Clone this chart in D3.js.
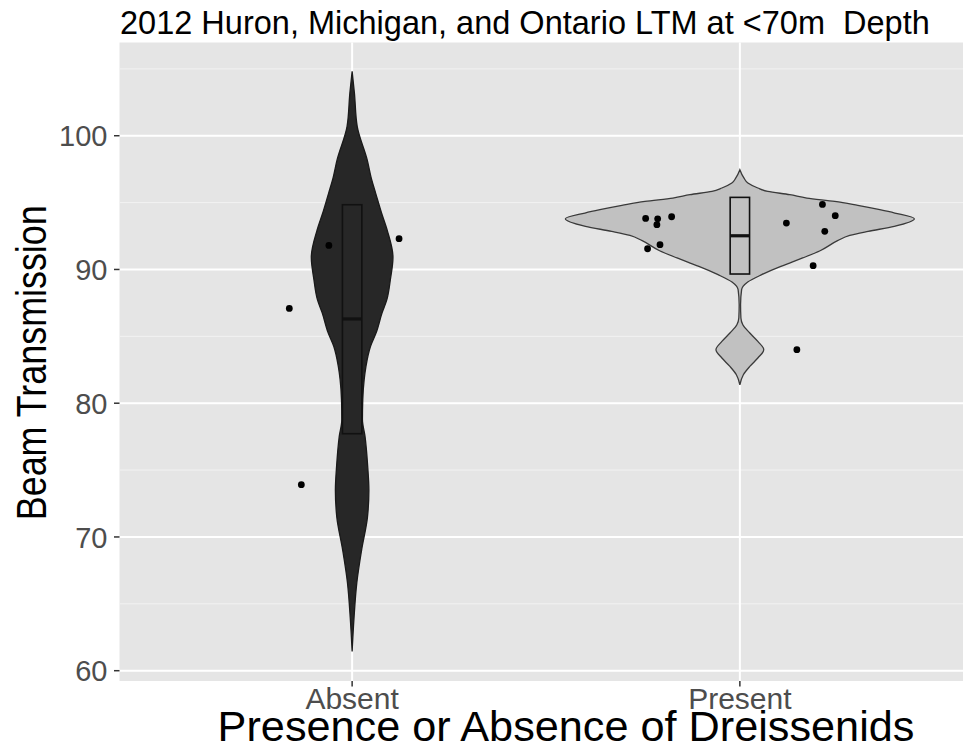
<!DOCTYPE html>
<html>
<head>
<meta charset="utf-8">
<script src="https://cdn.jsdelivr.net/npm/d3@7"></script>
<style>
  html, body { margin: 0; padding: 0; background: #ffffff; }
  svg { display: block; }
  text { font-family: "Liberation Sans", Arial, Helvetica, sans-serif; white-space: pre; }
</style>
</head>
<body>
<svg id="chart" width="963" height="750"></svg>
<script>
// Groups on the x axis
const categories = ["Absent", "Present"];

// Axis ticks
const yTicks = [60, 70, 80, 90, 100];
const yMinorTicks = [65, 75, 85, 95, 105];

// Violin outlines: beam transmission value and relative density (1 = widest violin)
const absentDensityValue = [104.81, 103.19, 100.7, 98.21, 96.71, 95.69, 94.20, 92.93, 90.91, 89.23, 87.74, 86.77, 85.28, 84.24, 82.74, 81.77, 80.28, 78.78, 77.5, 75.3, 73.5, 71.5, 69.0, 66.6, 64.0, 61.44];
const absentDensity      = [0, 0.013, 0.029, 0.086, 0.112, 0.135, 0.169, 0.201, 0.234, 0.219, 0.199, 0.172, 0.138, 0.105, 0.079, 0.069, 0.061, 0.059, 0.074, 0.089, 0.096, 0.088, 0.054, 0.027, 0.011, 0];

const presentDensityValue = [97.46, 96.84, 96.46, 96.09, 95.84, 95.59, 95.34, 95.09, 94.79, 94.47, 94.22, 93.79, 93.22, 92.85, 92.55, 92.15, 91.40, 90.86, 90.48, 90.23, 89.61, 89.06, 88.49, 87.36, 86.37, 85.87, 85.25, 84.62, 84.00, 83.38, 82.75, 82.13, 81.38];
const presentDensity      = [0, 0.023, 0.046, 0.103, 0.160, 0.286, 0.384, 0.544, 0.676, 0.802, 0.888, 1.0, 0.885, 0.735, 0.630, 0.560, 0.460, 0.360, 0.285, 0.235, 0.125, 0.045, 0.010, 0.004, 0.006, 0.017, 0.057, 0.103, 0.137, 0.103, 0.057, 0.020, 0];

// Box summaries: lower hinge, median, upper hinge
const absentBox  = [77.72, 86.30, 94.84];
const presentBox = [89.66, 92.52, 95.39];

// Individual stations (value and horizontal jitter as a fraction of the group spacing)
const absentValues  = [91.80, 92.30, 87.09, 73.91];
const absentJitter  = [-0.060, 0.121, -0.162, -0.131];
const presentValues = [93.82, 93.79, 93.35, 93.94, 91.55, 91.85, 94.86, 94.02, 93.47, 92.85, 90.28, 84.00];
const presentJitter = [-0.243, -0.212, -0.214, -0.176, -0.238, -0.206, 0.213, 0.246, 0.120, 0.219, 0.189, 0.147];

// Fills per group
const groupFills = ["#272727", "#c1c1c1"];
const groupStrokes = ["#1a1a1a", "#3a3a3a"];

const titleText = "2012 Huron, Michigan, and Ontario LTM at <70m  Depth";
const xTitleText = "Presence or Absence of Dreissenids";
const yTitleText = "Beam Transmission";

// ---------- layout ----------
const svg = d3.select("#chart");
const panel = { left: 119.5, right: 972.5, top: 42.5, bottom: 681 };

const x = d3.scalePoint().domain(categories).range([panel.left, panel.right]).padding(0.6);
const y = d3.scaleLinear().domain([59.23, 106.97]).range([panel.bottom, panel.top]);
const step = x.step();

// Squeeze or widen a text element along its own baseline to a given length
function fitLength(sel, length) {
  const natural = sel.node().getComputedTextLength();
  return length / natural;
}

// panel background
svg.append("rect")
  .attr("x", panel.left).attr("y", panel.top)
  .attr("width", panel.right - panel.left).attr("height", panel.bottom - panel.top)
  .attr("fill", "#e5e5e5");

const grid = svg.append("g");
grid.selectAll("line.minor").data(yMinorTicks).join("line")
  .attr("x1", panel.left).attr("x2", panel.right)
  .attr("y1", d => y(d)).attr("y2", d => y(d))
  .attr("stroke", "#f2f2f2").attr("stroke-width", 1);
grid.selectAll("line.major").data(yTicks).join("line")
  .attr("x1", panel.left).attr("x2", panel.right)
  .attr("y1", d => y(d)).attr("y2", d => y(d))
  .attr("stroke", "#ffffff").attr("stroke-width", 2);
grid.selectAll("line.vmajor").data(categories).join("line")
  .attr("x1", d => x(d)).attr("x2", d => x(d))
  .attr("y1", panel.top).attr("y2", panel.bottom)
  .attr("stroke", "#ffffff").attr("stroke-width", 2);

// ---------- violins ----------
const violins = [
  { cat: "Absent", vals: absentDensityValue, dens: absentDensity },
  { cat: "Present", vals: presentDensityValue, dens: presentDensity }
];
const halfMax = 0.45 * step;
violins.forEach((v, i) => {
  const pts = v.vals.map((val, k) => ({ val, d: v.dens[k] }));
  const cx = x(v.cat);
  const area = d3.area()
    .y(p => y(p.val))
    .x0(p => cx - p.d * halfMax)
    .x1(p => cx + p.d * halfMax)
    .curve(d3.curveMonotoneY);
  svg.append("path")
    .attr("d", area(pts))
    .attr("fill", groupFills[i])
    .attr("stroke", groupStrokes[i])
    .attr("stroke-width", 1.3);
});

// ---------- boxes ----------
const boxes = [
  { cat: "Absent", s: absentBox },
  { cat: "Present", s: presentBox }
];
const boxW = 0.05 * step;
boxes.forEach((b, i) => {
  const cx = x(b.cat);
  svg.append("rect")
    .attr("x", cx - boxW / 2).attr("width", boxW)
    .attr("y", y(b.s[2])).attr("height", y(b.s[0]) - y(b.s[2]))
    .attr("fill", groupFills[i])
    .attr("stroke", "#111111").attr("stroke-width", 1.6);
  svg.append("line")
    .attr("x1", cx - boxW / 2).attr("x2", cx + boxW / 2)
    .attr("y1", y(b.s[1])).attr("y2", y(b.s[1]))
    .attr("stroke", "#111111").attr("stroke-width", 3.2);
});

// ---------- points ----------
const points = [];
absentValues.forEach((v, k) => points.push({ cat: "Absent", v, j: absentJitter[k] }));
presentValues.forEach((v, k) => points.push({ cat: "Present", v, j: presentJitter[k] }));
svg.append("g").selectAll("circle").data(points).join("circle")
  .attr("cx", d => x(d.cat) + d.j * step)
  .attr("cy", d => y(d.v))
  .attr("r", 3.4)
  .attr("fill", "#000000");

// ---------- axes ----------
const axisColor = "#333333";
const tickColor = "#4d4d4d";
svg.append("g").selectAll("line").data(yTicks).join("line")
  .attr("x1", panel.left - 5.5).attr("x2", panel.left)
  .attr("y1", d => y(d)).attr("y2", d => y(d))
  .attr("stroke", axisColor).attr("stroke-width", 1.5);
svg.append("g").selectAll("line").data(categories).join("line")
  .attr("x1", d => x(d)).attr("x2", d => x(d))
  .attr("y1", panel.bottom).attr("y2", panel.bottom + 5.5)
  .attr("stroke", axisColor).attr("stroke-width", 1.5);

const tickFont = 30;
svg.append("g").selectAll("text").data(yTicks).join("text")
  .attr("x", panel.left - 12)
  .attr("y", d => y(d) + tickFont * 0.355)
  .attr("text-anchor", "end")
  .attr("font-size", tickFont - 1)
  .attr("fill", tickColor)
  .text(d => d);

svg.append("g").selectAll("text").data(categories).join("text")
  .attr("x", d => x(d))
  .attr("y", panel.bottom + 28)
  .attr("text-anchor", "middle")
  .attr("font-size", tickFont)
  .attr("fill", tickColor)
  .text(d => d);

// x axis title
const xTitle = svg.append("text")
  .attr("text-anchor", "middle")
  .attr("font-size", 42)
  .attr("fill", "#000000")
  .text(xTitleText);
xTitle.attr("transform", `translate(566,741) scale(${fitLength(xTitle, 697)},1)`);

// y axis title (rotated, narrow glyphs along the baseline)
const yTitle = svg.append("text")
  .attr("text-anchor", "middle")
  .attr("font-size", 42)
  .attr("fill", "#000000")
  .text(yTitleText);
yTitle.attr("transform", `translate(46,${(panel.top + panel.bottom) / 2 + 1}) rotate(-90) scale(${fitLength(yTitle, 315)},1)`);

// plot title
const title = svg.append("text")
  .attr("text-anchor", "start")
  .attr("font-size", 33)
  .attr("fill", "#000000")
  .text(titleText);
title.attr("transform", `translate(${panel.left + 0.5},34) scale(${fitLength(title, 810)},1)`);
</script>
</body>
</html>
